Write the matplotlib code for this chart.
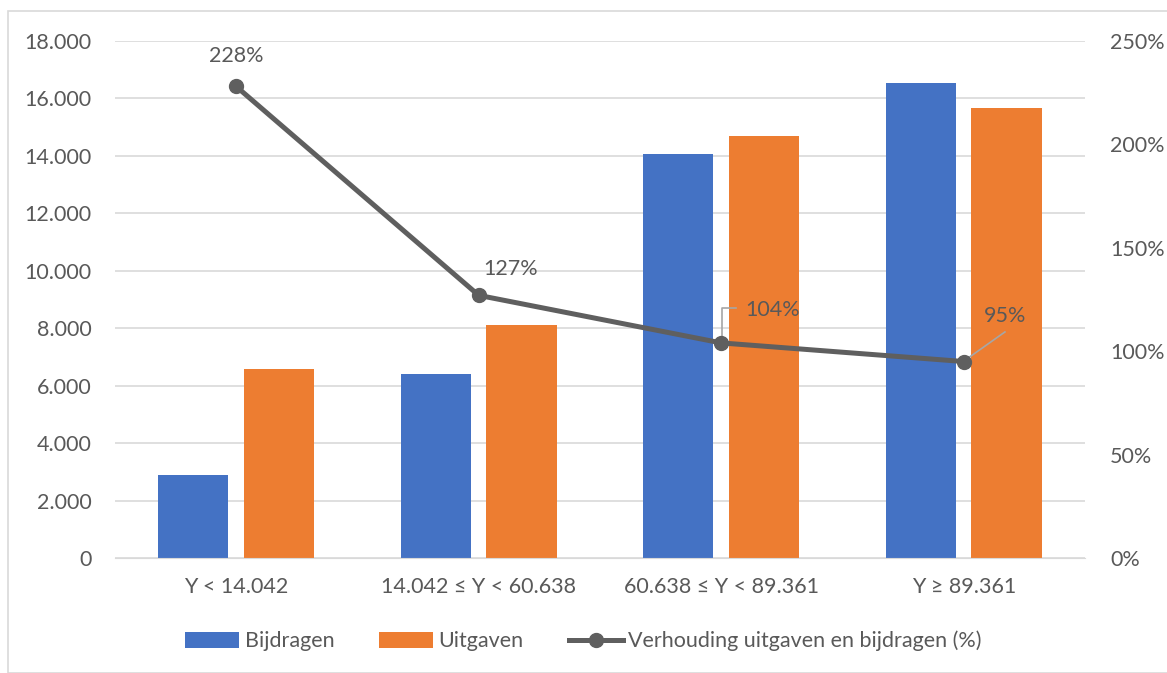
import matplotlib.pyplot as plt
from matplotlib.patches import Rectangle
from matplotlib.ticker import FuncFormatter
import numpy as np

# data
categories = ["Y < 14.042", "14.042 ≤ Y < 60.638", "60.638 ≤ Y < 89.361", "Y ≥ 89.361"]
bijdragen = [2890, 6400, 14060, 16540]
uitgaven = [6580, 8110, 14690, 15670]
verhouding = [228, 127, 104, 95]

BLUE = "#4472C4"
ORANGE = "#ED7D31"
LINE = "#5F5F5F"
TEXT = "#595959"
GRID = "#D9D9D9"
FS = 15.5

plt.rcParams["font.family"] = ["Lato", "DejaVu Sans"]
plt.rcParams["font.size"] = FS


def main():
    fig = plt.figure(figsize=(11.67, 6.73), dpi=100)
    ax = fig.add_axes([0.0985, 0.1709, 0.8312, 0.7682])
    ax2 = ax.twinx()

    x = np.arange(len(categories))
    w = 0.29
    off = 0.177

    # bars
    ax.bar(x - off, bijdragen, w, color=BLUE, label="Bijdragen", zorder=2)
    ax.bar(x + off, uitgaven, w, color=ORANGE, label="Uitgaven", zorder=2)

    ax.set_xlim(-0.5, 3.5)
    ax.set_ylim(0, 18000)
    ax.set_yticks(np.arange(0, 18001, 2000))
    ax.yaxis.set_major_formatter(FuncFormatter(lambda v, p: f"{int(v):,}".replace(",", ".")))
    ax.set_xticks(x)
    ax.set_xticklabels(categories)
    ax.grid(axis="y", color=GRID, linewidth=1.2, zorder=0)
    ax.set_axisbelow(True)

    # line on secondary axis
    ax2.plot(x, verhouding, color=LINE, linewidth=3.6, marker="o", markersize=10,
             label="Verhouding uitgaven en bijdragen (%)", zorder=3)
    ax2.set_ylim(0, 250)
    ax2.set_yticks(np.arange(0, 251, 50))
    ax2.yaxis.set_major_formatter(FuncFormatter(lambda v, p: f"{int(v)}%"))

    for a in (ax, ax2):
        for s in a.spines.values():
            s.set_visible(False)
        a.tick_params(length=0, colors=TEXT, labelsize=FS)
    ax.tick_params(axis="y", pad=17)
    ax.tick_params(axis="x", pad=14)
    ax2.tick_params(axis="y", pad=18)
    ax.spines["bottom"].set_visible(True)
    ax.spines["bottom"].set_color(GRID)

    # data labels
    offsets = [(0, 22), (23, 19), (37, 24), (29.5, 33)]
    for xi, v, o in zip(x, verhouding, offsets):
        ax2.annotate(f"{v}%", (xi, v), xytext=o, textcoords="offset points",
                     ha="center", va="center", color=TEXT, fontsize=FS)
    # leader lines
    ax2.plot([x[2] + 0.004, x[2] + 0.004, x[2] + 0.062],
             [verhouding[2] + 1, verhouding[2] + 17, verhouding[2] + 17],
             color="#A6A6A6", linewidth=1.2, zorder=2.5)
    ax2.plot([x[3] + 0.01, x[3] + 0.17],
             [verhouding[3] + 1, verhouding[3] + 14.3],
             color="#A6A6A6", linewidth=1.2, zorder=2.5)

    # legend
    h1, l1 = ax.get_legend_handles_labels()
    h2, l2 = ax2.get_legend_handles_labels()
    fig.legend(h1 + h2, l1 + l2, loc="center", bbox_to_anchor=(0.5, 1 - 641 / 673),
               ncol=3, frameon=False, labelcolor=TEXT, fontsize=FS,
               handlelength=2.5, handleheight=0.75, handletextpad=0.25, columnspacing=2.1)

    # chart border
    fig.patches.append(Rectangle((8 / 1167, 0), 1.0, 1 - 11 / 673, transform=fig.transFigure,
                                 fill=False, edgecolor=GRID, linewidth=1.2))

    fig.savefig("out.png", dpi=100)


if __name__ == "__main__":
    main()
